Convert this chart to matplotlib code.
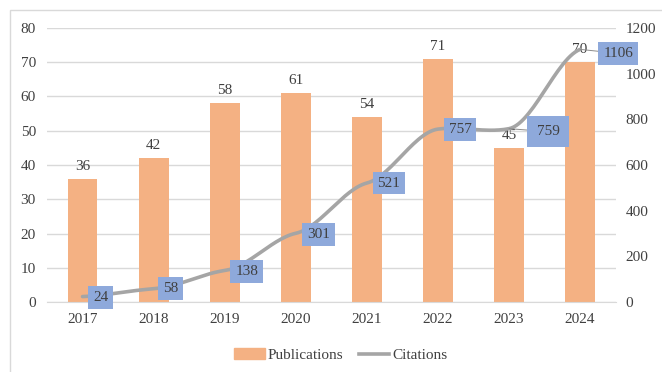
import numpy as np
import matplotlib.pyplot as plt
from matplotlib.patches import Patch, Rectangle
from matplotlib.lines import Line2D

plt.rcParams['font.family'] = ['Liberation Serif', 'DejaVu Serif']

years = ['2017', '2018', '2019', '2020', '2021', '2022', '2023', '2024']
publications = [36, 42, 58, 61, 54, 71, 45, 70]
citations = [24, 58, 138, 301, 521, 757, 759, 1106]

# label offsets (pixels) and box padding for the citation boxes
cit_offsets = [(18, -1), (17, 0), (22, -1), (23, -1), (22, 0), (22, 0), (39, -3), (38, -4)]
cit_pads = [0.32, 0.32, 0.32, 0.32, 0.32, 0.32, 0.6, 0.32]

bar_color = '#F4B183'
line_color = '#A5A5A5'
box_color = '#8EA9DB'
txt = '#404040'


def smooth(x, y, tension=0.35, n=30):
    # cardinal spline through the points, a bit like the excel smoothed line
    x = np.asarray(x, float)
    y = np.asarray(y, float)
    m = np.zeros_like(y)
    m[1:-1] = tension * (y[2:] - y[:-2]) / 2
    m[0] = tension * (y[1] - y[0])
    m[-1] = tension * (y[-1] - y[-2])
    xs, ys = [], []
    for k in range(len(x) - 1):
        t = np.linspace(0, 1, n)
        h00 = 2 * t**3 - 3 * t**2 + 1
        h10 = t**3 - 2 * t**2 + t
        h01 = -2 * t**3 + 3 * t**2
        h11 = t**3 - t**2
        xs.append(x[k] + t * (x[k + 1] - x[k]))
        ys.append(h00 * y[k] + h10 * m[k] + h01 * y[k + 1] + h11 * m[k + 1])
    return np.concatenate(xs), np.concatenate(ys)


fig = plt.figure(figsize=(6.62, 3.72), dpi=100)
ax = fig.add_axes([0.071, 0.188, 0.859, 0.737])
ax2 = ax.twinx()

x = np.arange(len(years))
bars = ax.bar(x, publications, width=0.42, color=bar_color, zorder=2)
for xi, v in zip(x, publications):
    ax.annotate(str(v), (xi, v), xytext=(0, 6), textcoords='offset pixels',
                ha='center', va='bottom', fontsize=11, color=txt, zorder=5)

ax.set_xlim(-0.5, len(years) - 0.5)
ax.set_ylim(0, 80)
ax.set_yticks(range(0, 81, 10))
ax.set_xticks(x)
ax.set_xticklabels(years)
ax.grid(axis='y', color='#D9D9D9', linewidth=1, zorder=0)
ax.set_axisbelow(True)

ax2.set_ylim(0, 1200)
ax2.set_yticks(range(0, 1201, 200))
ax2.set_zorder(ax.get_zorder() + 1)
ax2.patch.set_visible(False)

sx, sy = smooth(x, citations)
ax2.plot(sx, sy, color=line_color, linewidth=2.6, solid_capstyle='round', zorder=3)

for xi, v, off, pad in zip(x, citations, cit_offsets, cit_pads):
    kw = dict(xytext=off, textcoords='offset pixels', ha='center', va='center',
              fontsize=11, color=txt, zorder=6,
              bbox=dict(boxstyle='square,pad=%.2f' % pad, fc=box_color, ec='none'))
    if off[0] > 30:
        # these two got dragged away in the original, so they have a leader line
        kw['arrowprops'] = dict(arrowstyle='-', color='#8C8C8C', lw=0.7,
                                shrinkA=0, shrinkB=0)
    ax2.annotate(str(v), (xi, v), **kw)

for a in (ax, ax2):
    for s in a.spines.values():
        s.set_visible(False)
    a.tick_params(length=0, labelsize=11, colors=txt)
ax.spines['bottom'].set_visible(True)
ax.spines['bottom'].set_color('#D9D9D9')
ax.tick_params(axis='y', pad=8)
ax.tick_params(axis='x', pad=8)
ax2.tick_params(axis='y', pad=7)

handles = [Patch(color=bar_color), Line2D([0], [0], color=line_color, lw=2.6)]
fig.legend(handles, ['Publications', 'Citations'], loc='center', bbox_to_anchor=(0.515, 0.045),
           ncol=2, frameon=False, fontsize=11, labelcolor=txt, handlelength=2.0,
           handleheight=0.7, handletextpad=0.2, columnspacing=1.0)

fig.patches.append(Rectangle((10 / 662, -0.02), 1.0, 1 - 10 / 372 + 0.02,
                             transform=fig.transFigure, fill=False,
                             ec='#D9D9D9', lw=1))

fig.savefig('out.png', dpi=100)
